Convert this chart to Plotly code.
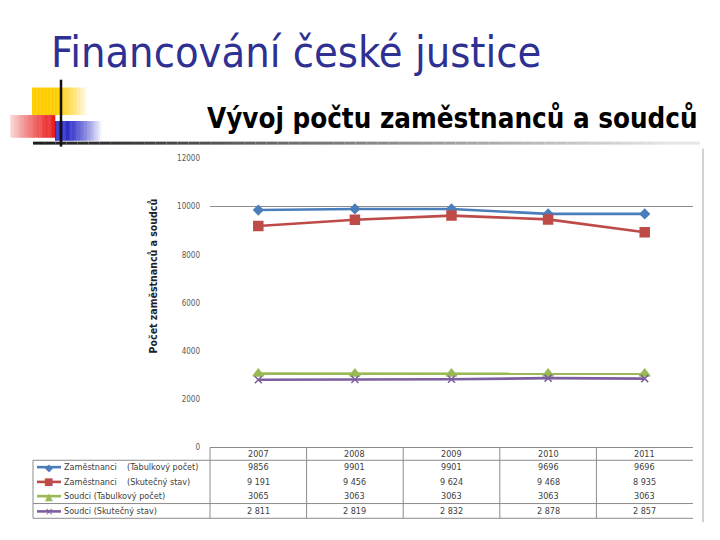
import plotly.graph_objects as go

# ---------------- data ----------------
years = ["2007", "2008", "2009", "2010", "2011"]
zam_tab = [9856, 9901, 9901, 9696, 9696]
zam_skut = [9191, 9456, 9624, 9468, 8935]
soud_tab = [3065, 3063, 3063, 3063, 3063]
soud_skut = [2811, 2819, 2832, 2878, 2857]
series_names = [
    "Zaměstnanci    (Tabulkový počet)",
    "Zaměstnanci    (Skutečný stav)",
    "Soudci (Tabulkový počet)",
    "Soudci (Skutečný stav)",
]
y_ticks = [0, 2000, 4000, 6000, 8000, 10000, 12000]
y_tick_labels = ["0", "2000", "4000", "6000", "8000", "10000", "12000"]
title_text = "Financování české justice"
subtitle_text = "Vývoj počtu zaměstnanců a soudců"
y_title = "Počet zaměstnanců a soudců"

series_values = [zam_tab, zam_skut, soud_tab, soud_skut]
series_colors = ["#4A7EBB", "#BE4B48", "#98B954", "#7D5FA0"]
series_symbols = ["diamond", "square", "triangle-up", "x-thin-open"]
series_sizes = [7, 9, 9, 7]
series_glyphs = ["◆", "■", "▲", "×"]
row_spaced = [False, True, False, True]

W, H = 720, 540


def px(x):
    return x / W


def py(y):
    return 1 - y / H


fig = go.Figure()
for name, vals, col, sym, sz in zip(series_names, series_values, series_colors,
                                    series_symbols, series_sizes):
    fig.add_trace(go.Scatter(
        x=years, y=vals, name=name, mode="lines+markers",
        line=dict(color=col, width=2.6),
        marker=dict(symbol=sym, size=sz, color=col,
                    line=dict(color=col, width=1.5)),
        showlegend=False, xaxis="x", yaxis="y"))

shapes = []
ann = []

# ---------- decoration (slide template) ----------
def hstrips(x0, x1, y0, y1, color, alpha_fn, n=40):
    w = (x1 - x0) / n
    for i in range(n):
        a = alpha_fn((i + 0.5) / n)
        if a <= 0.01:
            continue
        shapes.append(dict(type="rect", xref="paper", yref="paper",
                           x0=px(x0 + i * w), x1=px(x0 + (i + 1) * w + 0.3),
                           y0=py(y1), y1=py(y0), fillcolor=color,
                           opacity=a, line=dict(width=0), layer="below"))

hstrips(32, 88, 85, 113, "#FFCC00", lambda t: 1.0 if t < 0.45 else max(0, 1 - (t - 0.45) / 0.55))
hstrips(10, 55, 113, 136, "#E81818", lambda t: 0.12 + 0.88 * t)
hstrips(55, 102, 119, 139, "#2F2FC8", lambda t: 1.0 if t < 0.3 else max(0, 1 - (t - 0.3) / 0.7))

# gradient horizontal rule
n = 60
for i in range(n):
    t = i / n
    g = int(30 + 200 * min(1, t * 1.05))
    shapes.append(dict(type="line", xref="paper", yref="paper",
                       x0=px(33 + i * (667 / n)), x1=px(33 + (i + 1) * (667 / n)),
                       y0=py(141.5), y1=py(141.5),
                       line=dict(color=f"rgb({g},{g},{g})", width=3)))
# vertical black line
shapes.append(dict(type="line", xref="paper", yref="paper",
                   x0=px(61), x1=px(61), y0=py(77), y1=py(145),
                   line=dict(color="#111", width=2.5)))
# right frame line of the chart picture
shapes.append(dict(type="line", xref="paper", yref="paper",
                   x0=px(703), x1=px(703), y0=py(147), y1=py(527),
                   line=dict(color="#b5b5b5", width=1.2)))

# ---------- titles ----------
ann.append(dict(text=title_text, xref="paper", yref="paper", x=px(49), y=py(49),
                xanchor="left", yanchor="middle", showarrow=False,
                font=dict(family="DejaVu Sans Condensed", size=43, color="#2E3192")))
ann.append(dict(text="<b>" + subtitle_text + "</b>", xref="paper", yref="paper",
                x=px(205), y=py(116), xanchor="left", yanchor="middle", showarrow=False,
                font=dict(family="DejaVu Sans Condensed", size=27.5, color="#000")))
ann.append(dict(text="<b>" + y_title + "</b>", xref="paper", yref="paper",
                x=px(153), y=py(277), xanchor="center", yanchor="middle",
                textangle=-90, showarrow=False,
                font=dict(family="DejaVu Sans Condensed", size=10.5, color="#222")))

# ---------- data table ----------
grid_col = "#8c8c8c"
col_edges = [210, 306.6, 403.2, 499.8, 596.4, 693]
t_top, t_hdr, t_sep, t_bot = 451, 464, 508, 523
row_y = [471, 486, 500.5, 516]
for yy, x0 in [(t_hdr, 33), (t_sep, 33), (t_bot, 33)]:
    shapes.append(dict(type="line", xref="paper", yref="paper",
                       x0=px(x0), x1=px(693), y0=py(yy), y1=py(yy),
                       line=dict(color=grid_col, width=1)))
shapes.append(dict(type="line", xref="paper", yref="paper",
                   x0=px(33), x1=px(33), y0=py(t_hdr), y1=py(t_bot),
                   line=dict(color=grid_col, width=1)))
for xe in col_edges[:-1]:
    shapes.append(dict(type="line", xref="paper", yref="paper",
                       x0=px(xe), x1=px(xe), y0=py(t_top), y1=py(t_bot),
                       line=dict(color=grid_col, width=1)))

tfont = dict(family="DejaVu Sans Condensed", size=9, color="#404040")
for i, yr in enumerate(years):
    ann.append(dict(text=yr, xref="x", yref="paper", x=i, y=py(457.5),
                    xanchor="center", yanchor="middle", showarrow=False, font=tfont))


def fmt(v, spaced):
    s = str(v)
    if spaced and len(s) > 3:
        s = s[:-3] + " " + s[-3:]
    return s


for r, (name, vals, col, glyph, sp) in enumerate(zip(series_names, series_values,
                                                     series_colors, series_glyphs,
                                                     row_spaced)):
    yy = row_y[r]
    shapes.append(dict(type="line", xref="paper", yref="paper",
                       x0=px(37), x1=px(61), y0=py(yy), y1=py(yy),
                       line=dict(color=col, width=2.6)))
    ann.append(dict(text=glyph, xref="paper", yref="paper", x=px(49), y=py(yy),
                    xanchor="center", yanchor="middle", showarrow=False,
                    font=dict(family="DejaVu Sans", size=10, color=col)))
    ann.append(dict(text=name.replace("  ", "&nbsp;&nbsp;"), xref="paper", yref="paper",
                    x=px(62), y=py(yy), xanchor="left", yanchor="middle",
                    showarrow=False, font=tfont))
    for i, v in enumerate(vals):
        ann.append(dict(text=fmt(v, sp), xref="x", yref="paper", x=i, y=py(yy),
                        xanchor="center", yanchor="middle", showarrow=False,
                        font=tfont))

fig.update_layout(
    width=W, height=H, margin=dict(l=0, r=0, t=0, b=0),
    paper_bgcolor="white", plot_bgcolor="rgba(0,0,0,0)",
    xaxis=dict(domain=[px(210), px(693)], type="category", range=[-0.5, 4.5],
               showticklabels=False, ticks="", showgrid=False, zeroline=False,
               showline=True, linecolor=grid_col, linewidth=1,
               categoryorder="array", categoryarray=years),
    yaxis=dict(domain=[py(451), py(157)], range=[0, 12000], tickvals=y_ticks,
               ticktext=y_tick_labels, showgrid=False, zeroline=False,
               ticks="", ticklabelstandoff=9,
               tickfont=dict(family="DejaVu Sans Condensed", size=8, color="#595959")),
    yaxis2=dict(overlaying="y", range=[0, 12000], tickvals=[10000],
                showgrid=True, gridcolor=grid_col, gridwidth=1,
                showticklabels=False, zeroline=False, ticks=""),
    shapes=shapes, annotations=ann,
)
fig.add_trace(go.Scatter(x=[years[0]], y=[None], xaxis="x", yaxis="y2",
                         showlegend=False, hoverinfo="skip"))

fig.write_html("out.html", config={"displayModeBar": False},
               post_script="document.body.style.margin='0';document.body.style.overflow='hidden';")
